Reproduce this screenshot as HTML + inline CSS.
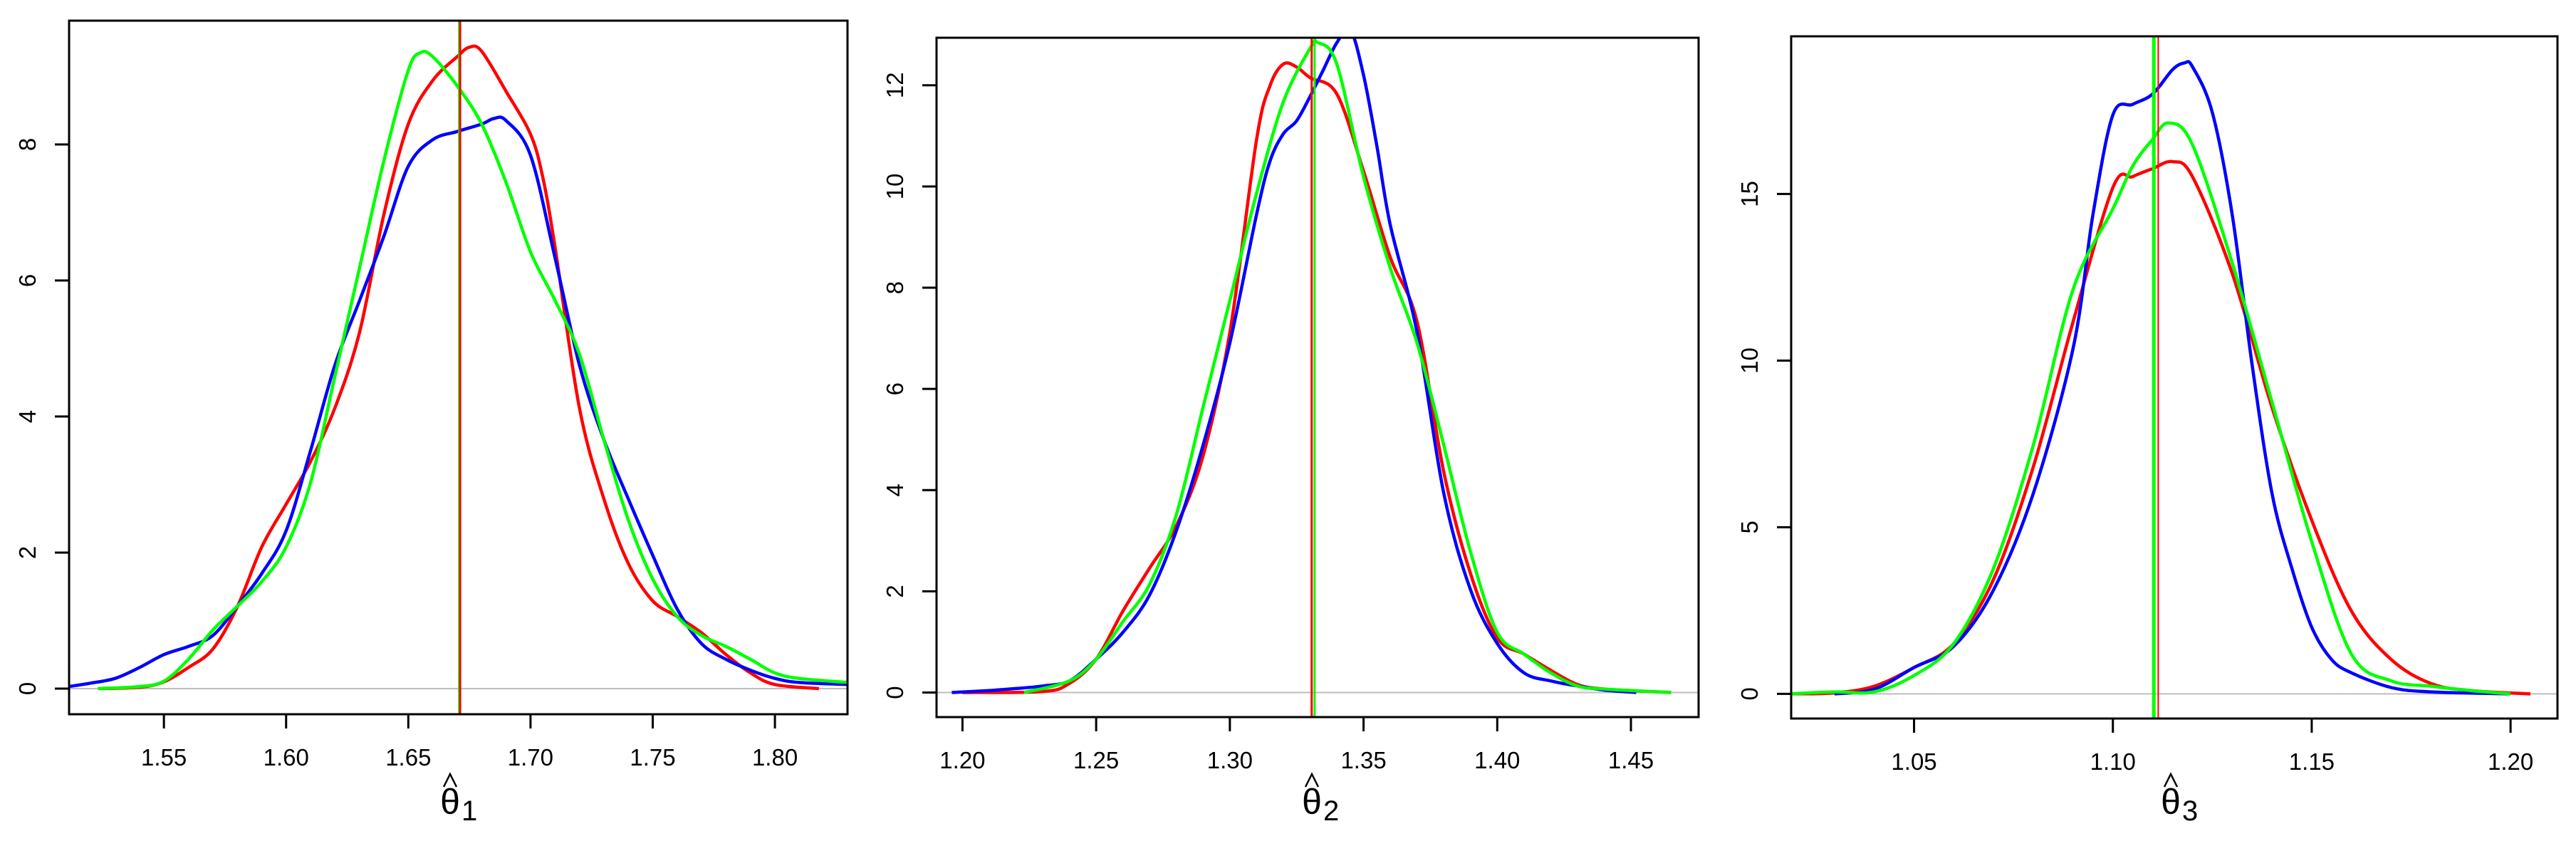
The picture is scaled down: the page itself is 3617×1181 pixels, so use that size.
<!DOCTYPE html>
<html><head><meta charset="utf-8"><style>
html,body{margin:0;padding:0;background:#fff}
svg{display:block}
text{font-family:"Liberation Sans",sans-serif;fill:#000}
</style></head>
<body>
<svg id="fig" width="3617" height="1181" viewBox="0 0 3617 1181" xmlns="http://www.w3.org/2000/svg"></svg>
<script>
// Panel 1 data
const p1RedX=[1.523,1.54,1.55,1.56,1.57,1.58,1.59,1.60,1.61,1.62,1.63,1.64,1.65,1.66,1.67,1.675,1.68,1.69,1.70,1.705,1.71,1.72,1.73,1.74,1.75,1.76,1.77,1.78,1.79,1.80,1.818];
const p1Red=[0,0.02,0.1,0.31,0.58,1.2,2.08,2.71,3.34,4.13,5.23,6.97,8.3,8.94,9.29,9.43,9.37,8.78,8.15,7.52,6.5,4.13,2.79,1.84,1.29,1.06,0.82,0.5,0.23,0.06,0];
const p1BlueX=[1.511,1.52,1.53,1.54,1.55,1.56,1.57,1.58,1.59,1.60,1.61,1.62,1.63,1.64,1.65,1.66,1.67,1.68,1.685,1.69,1.70,1.71,1.72,1.73,1.74,1.75,1.76,1.77,1.78,1.79,1.80,1.81,1.83];
const p1Blue=[0.03,0.08,0.15,0.31,0.5,0.62,0.78,1.21,1.69,2.32,3.5,4.76,5.7,6.65,7.68,8.07,8.19,8.3,8.38,8.35,7.84,6.34,4.76,3.66,2.79,1.96,1.17,0.66,0.43,0.27,0.15,0.09,0.06];
const p1GreenX=[1.523,1.54,1.55,1.56,1.57,1.58,1.59,1.60,1.61,1.62,1.63,1.64,1.65,1.655,1.66,1.67,1.68,1.69,1.70,1.71,1.72,1.73,1.74,1.75,1.76,1.77,1.78,1.79,1.80,1.81,1.83];
const p1Green=[0,0.03,0.11,0.43,0.86,1.21,1.57,2.08,3.03,4.6,6.18,7.76,9.09,9.35,9.29,8.86,8.3,7.44,6.42,5.71,4.92,3.66,2.48,1.61,1.06,0.78,0.62,0.43,0.23,0.15,0.09];
const p1XTicks=[1.55,1.60,1.65,1.70,1.75,1.80];
const p1XTickLabels=["1.55","1.60","1.65","1.70","1.75","1.80"];
const p1YTicks=[0,2,4,6,8];
const p1VLines=[1.6708,1.6712];
// Panel 2 data
const p2RedX=[1.20,1.23,1.24,1.25,1.26,1.27,1.28,1.29,1.30,1.31,1.315,1.32,1.325,1.33,1.34,1.35,1.36,1.37,1.38,1.39,1.40,1.41,1.42,1.43,1.44,1.465];
const p2Red=[0,0.02,0.18,0.66,1.61,2.46,3.3,4.68,7.12,10.93,11.99,12.42,12.36,12.15,11.83,10.3,8.6,7.33,4.36,2.35,1.08,0.76,0.44,0.16,0.07,0];
const p2BlueX=[1.196,1.21,1.22,1.23,1.24,1.25,1.26,1.27,1.28,1.29,1.30,1.31,1.315,1.32,1.325,1.33,1.335,1.34,1.345,1.35,1.355,1.36,1.37,1.38,1.39,1.40,1.41,1.42,1.43,1.44,1.452];
const p2Blue=[0,0.04,0.08,0.13,0.23,0.66,1.19,1.93,3.2,4.89,6.91,9.45,10.5,11.04,11.3,11.78,12.31,12.84,13.1,12.2,10.8,9.24,7.12,3.94,2.03,0.97,0.39,0.23,0.13,0.05,0];
const p2GreenX=[1.223,1.24,1.25,1.26,1.27,1.28,1.29,1.30,1.31,1.32,1.33,1.333,1.34,1.35,1.36,1.37,1.38,1.39,1.40,1.41,1.42,1.43,1.44,1.465];
const p2Green=[0,0.23,0.66,1.4,2.14,3.52,5.64,7.75,9.87,11.67,12.73,12.84,12.42,10.19,8.39,6.91,4.89,2.78,1.19,0.76,0.39,0.13,0.07,0];
const p2XTicks=[1.20,1.25,1.30,1.35,1.40,1.45];
const p2XTickLabels=["1.20","1.25","1.30","1.35","1.40","1.45"];
const p2YTicks=[0,2,4,6,8,10,12];
const p2VLines=[1.3317,1.3306];
// Panel 3 data
const p3RedX=[1.019,1.03,1.04,1.05,1.06,1.07,1.08,1.09,1.10,1.105,1.11,1.115,1.12,1.13,1.14,1.15,1.16,1.17,1.18,1.19,1.205];
const p3Red=[0,0.03,0.23,0.79,1.51,3.44,6.82,11.17,15.19,15.52,15.76,15.97,15.52,12.62,8.6,5.21,2.48,1.03,0.31,0.1,0];
const p3BlueX=[1.03,1.04,1.05,1.06,1.07,1.08,1.09,1.095,1.10,1.105,1.11,1.115,1.118,1.12,1.125,1.13,1.135,1.14,1.145,1.15,1.155,1.16,1.17,1.18,1.20];
const p3Blue=[0,0.14,0.79,1.43,3.12,6.02,10.37,14.39,17.37,17.69,18.0,18.73,18.93,18.82,17.45,14.39,9.88,6.02,3.77,2.0,1.03,0.63,0.19,0.06,0];
const p3GreenX=[1.019,1.03,1.04,1.05,1.06,1.07,1.08,1.09,1.10,1.105,1.11,1.114,1.12,1.13,1.14,1.15,1.16,1.17,1.18,1.19,1.20];
const p3Green=[0,0.06,0.06,0.55,1.51,3.77,7.47,12.14,14.55,15.84,16.64,17.13,16.48,12.94,8.76,4.57,1.19,0.39,0.23,0.1,0];
const p3XTicks=[1.05,1.10,1.15,1.20];
const p3XTickLabels=["1.05","1.10","1.15","1.20"];
const p3YTicks=[0,5,10,15];
const p3VLines=[1.1103,1.1114];

const NS="http://www.w3.org/2000/svg";
const svg=document.getElementById('fig');
function mk(tag,attrs,parent){const e=document.createElementNS(NS,tag);for(const k in attrs)e.setAttribute(k,attrs[k]);(parent||svg).appendChild(e);return e;}
function smooth(pts){let d="M"+pts[0][0].toFixed(1)+","+pts[0][1].toFixed(1);
 for(let i=0;i<pts.length-1;i++){const p0=pts[Math.max(i-1,0)],p1=pts[i],p2=pts[i+1],p3=pts[Math.min(i+2,pts.length-1)];
  const c1x=p1[0]+(p2[0]-p0[0])/6,c1y=p1[1]+(p2[1]-p0[1])/6,c2x=p2[0]-(p3[0]-p1[0])/6,c2y=p2[1]-(p3[1]-p1[1])/6;
  d+=" C"+c1x.toFixed(1)+","+c1y.toFixed(1)+" "+c2x.toFixed(1)+","+c2y.toFixed(1)+" "+p2[0].toFixed(1)+","+p2[1].toFixed(1);}
 return d;}

function panel(cfg){
 const g=mk('g',{});
 
 
 const X=v=>cfg.L+(v-cfg.x0)/(cfg.x1-cfg.x0)*(cfg.R-cfg.L);
 const Y=v=>cfg.B-(v-cfg.y0)/(cfg.y1-cfg.y0)*(cfg.B-cfg.T);
 const clipId='clip'+cfg.name;
 const defs=mk('defs',{},g);const cp=mk('clipPath',{id:clipId},defs);
 mk('rect',{x:cfg.L,y:cfg.T,width:cfg.R-cfg.L,height:cfg.B-cfg.T},cp);
 const plot=mk('g',{'clip-path':'url(#'+clipId+')'},g);
 const zl=mk('line',{x1:cfg.L,x2:cfg.R,y1:Y(0),y2:Y(0),stroke:'#bebebe','stroke-width':2},plot);
 
 
 cfg.series.forEach(s=>{
  const pts=s.x.map((xv,i)=>[X(xv),Y(s.y[i])]);
  const p=mk('path',{d:smooth(pts),fill:'none',stroke:s.color,'stroke-width':4.5,'stroke-linejoin':'round'},plot);
  
  
 });
 cfg.vlines.forEach((v,i)=>{
  const l=mk('line',{x1:X(v),x2:X(v),y1:cfg.T,y2:cfg.B,stroke:cfg.vcolors[i],'stroke-width':cfg.vwidths[i]},plot);
  
  
 });
 const box=mk('rect',{x:cfg.L,y:cfg.T,width:cfg.R-cfg.L,height:cfg.B-cfg.T,fill:'none',stroke:'#000','stroke-width':3},g);
 
 
 cfg.xt.forEach((v,i)=>{
  const t=mk('line',{x1:X(v),x2:X(v),y1:cfg.B,y2:cfg.B+20,stroke:'#000','stroke-width':3},g);
  
  
  const tx=mk('text',{x:X(v),y:cfg.B+72,'font-size':33,'text-anchor':'middle'},g);
  tx.textContent=cfg.xtl[i];
  
  
 });
 cfg.yt.forEach(v=>{
  const t=mk('line',{x1:cfg.L-20,x2:cfg.L,y1:Y(v),y2:Y(v),stroke:'#000','stroke-width':3},g);
  
  
  const lx=cfg.L-47;
  const tx=mk('text',{x:lx,y:Y(v),'font-size':33,'text-anchor':'middle',transform:'rotate(-90 '+lx+' '+Y(v)+')'},g);
  tx.textContent=String(v);
  
  
 });
 const tg=mk('g',{},g);
 
 
 const th=mk('text',{x:cfg.tx,y:1143,'font-size':50,'text-anchor':'middle'},tg);th.textContent='θ';
 const hat=mk('polyline',{points:(cfg.tx-9)+',1105 '+cfg.tx+',1087 '+(cfg.tx+9)+',1105',fill:'none',stroke:'#000','stroke-width':2.5},tg);
 
 
 const sub=mk('text',{x:cfg.tx+16,y:1152,'font-size':40},tg);sub.textContent=cfg.sub;
}

panel({name:'panel-theta1',L:97,R:1190,T:29,B:1003,x0:1.5112,x1:1.8297,y0:-0.377,y1:9.82,
 series:[{name:'red-density',x:p1RedX,y:p1Red,color:'#ff0000'},{name:'blue-density',x:p1BlueX,y:p1Blue,color:'#0000ff'},{name:'green-density',x:p1GreenX,y:p1Green,color:'#00ff00'}],
 vlines:p1VLines,vcolors:['#00ff00','#ff0000'],vwidths:[3,3],vnames:['green','red'],
 xt:p1XTicks,xtl:p1XTickLabels,yt:p1YTicks,tx:632,sub:'1'});
panel({name:'panel-theta2',L:1315,R:2385,T:53,B:1007,x0:1.1903,x1:1.4753,y0:-0.485,y1:12.94,
 series:[{name:'red-density',x:p2RedX,y:p2Red,color:'#ff0000'},{name:'blue-density',x:p2BlueX,y:p2Blue,color:'#0000ff'},{name:'green-density',x:p2GreenX,y:p2Green,color:'#00ff00'}],
 vlines:p2VLines,vcolors:['#00ff00','#ff0000'],vwidths:[3,3],vnames:['green','red'],
 xt:p2XTicks,xtl:p2XTickLabels,yt:p2YTicks,tx:1842,sub:'2'});
panel({name:'panel-theta3',L:2515,R:3591,T:51,B:1009,x0:1.0191,x1:1.2118,y0:-0.74,y1:19.73,
 series:[{name:'red-density',x:p3RedX,y:p3Red,color:'#ff0000'},{name:'blue-density',x:p3BlueX,y:p3Blue,color:'#0000ff'},{name:'green-density',x:p3GreenX,y:p3Green,color:'#00ff00'}],
 vlines:p3VLines,vcolors:['#00ff00','#ff0000'],vwidths:[5,2],vnames:['green','red'],
 xt:p3XTicks,xtl:p3XTickLabels,yt:p3YTicks,tx:3048,sub:'3'});
</script>
</body></html>
